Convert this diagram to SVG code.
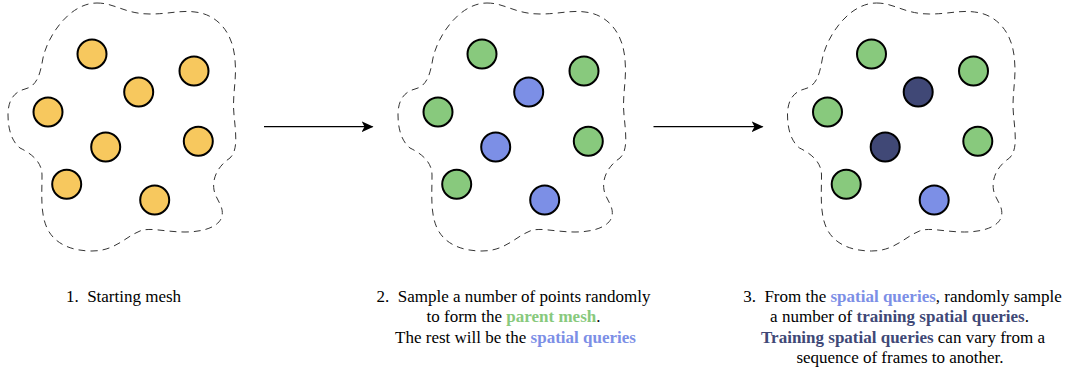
<svg xmlns="http://www.w3.org/2000/svg" width="1070" height="372" viewBox="0 0 1070 372">
<style>
.blob{fill:none;stroke:#333333;stroke-width:1;stroke-dasharray:7 5;}
.pt{stroke:#000000;stroke-width:2;}
.y{fill:#F7C85E;}
.g{fill:#88C97D;}
.b{fill:#7C8FE6;}
.d{fill:#404876;}
.conn{stroke:#000000;stroke-width:1.3;fill:none;}
text{font-family:"Liberation Serif","Times New Roman",serif;font-size:17px;fill:#000000;text-anchor:middle;}
.tg{fill:#88C97D;font-weight:bold;}
.tb{fill:#7C8FE6;font-weight:bold;}
.td{fill:#404876;font-weight:bold;}
</style>
<defs>
<path id="blobShape" d="M 97,3 C 115,3 125,14 150,14 C 170,14 180,10 195,12 C 215,14 233,30 235,60 C 237,80 232,95 234,115 C 236,135 238,150 230,158 C 218,166 212,178 214,190 C 216,200 224,206 222,216 C 220,226 205,232 185,232 C 165,232 150,227 140,231 C 125,237 115,251 92,251 C 70,251 55,243 48,230 C 40,215 42,195 42,175 C 42,160 28,152 20,148 C 10,140 8,125 8,115 C 8,100 14,92 25,89 C 37,86 40,75 43,58 C 48,35 70,3 97,3 Z"/>
<marker id="arr" markerWidth="12" markerHeight="11" refX="11" refY="5.5" orient="auto" markerUnits="userSpaceOnUse">
<path d="M0,0 L12,5.5 L0,11 L3,5.5 Z" fill="#000000"/>
</marker>
</defs>

<g id="mesh1">
<use href="#blobShape" class="blob"/>
<circle class="pt y" cx="92" cy="54" r="14.5"/>
<circle class="pt y" cx="194" cy="71" r="14.5"/>
<circle class="pt y" cx="138.7" cy="92" r="14.5"/>
<circle class="pt y" cx="48" cy="112" r="14.5"/>
<circle class="pt y" cx="105.7" cy="147" r="14.5"/>
<circle class="pt y" cx="198.3" cy="141.3" r="14.5"/>
<circle class="pt y" cx="66.7" cy="184.3" r="14.5"/>
<circle class="pt y" cx="154.7" cy="200" r="14.5"/>
</g>

<g id="mesh2" transform="translate(390,0)">
<use href="#blobShape" class="blob"/>
<circle class="pt g" cx="92" cy="54" r="14.5"/>
<circle class="pt g" cx="194" cy="71" r="14.5"/>
<circle class="pt b" cx="138.7" cy="92" r="14.5"/>
<circle class="pt g" cx="48" cy="112" r="14.5"/>
<circle class="pt b" cx="105.7" cy="147" r="14.5"/>
<circle class="pt g" cx="198.3" cy="141.3" r="14.5"/>
<circle class="pt g" cx="66.7" cy="184.3" r="14.5"/>
<circle class="pt b" cx="154.7" cy="200" r="14.5"/>
</g>

<g id="mesh3" transform="translate(779.5,0)">
<use href="#blobShape" class="blob"/>
<circle class="pt g" cx="92" cy="54" r="14.5"/>
<circle class="pt g" cx="194" cy="71" r="14.5"/>
<circle class="pt d" cx="138.7" cy="92" r="14.5"/>
<circle class="pt g" cx="48" cy="112" r="14.5"/>
<circle class="pt d" cx="105.7" cy="147" r="14.5"/>
<circle class="pt g" cx="198.3" cy="141.3" r="14.5"/>
<circle class="pt g" cx="66.7" cy="184.3" r="14.5"/>
<circle class="pt b" cx="154.7" cy="200" r="14.5"/>
</g>

<g id="connectors">
<line class="conn" x1="264" y1="126.7" x2="372.5" y2="126.7" marker-end="url(#arr)"/>
<line class="conn" x1="653.5" y1="126.7" x2="762.5" y2="126.7" marker-end="url(#arr)"/>
</g>

<g id="label1">
<text x="123.5" y="301.5">1.&#160; Starting mesh</text>
</g>

<g id="label2">
<text x="513.5" y="301.5">2.&#160; Sample a number of points randomly</text>
<text x="513.5" y="322">to form the <tspan class="tg">parent mesh</tspan>.</text>
<text x="515.5" y="342.5">The rest will be the <tspan class="tb">spatial queries</tspan></text>
</g>

<g id="label3">
<text x="902.5" y="301.5">3.&#160; From the <tspan class="tb">spatial queries</tspan>, randomly sample</text>
<text x="899.5" y="322">a number of <tspan class="td">training spatial queries</tspan>.</text>
<text x="903" y="342.5"><tspan class="td">Training spatial queries</tspan> can vary from a</text>
<text x="900" y="363">sequence of frames to another.</text>
</g>
</svg>
